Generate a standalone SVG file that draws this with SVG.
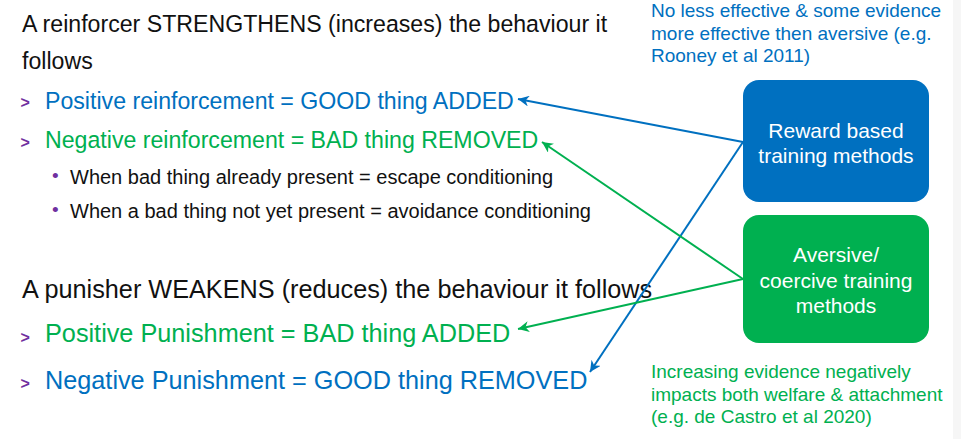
<svg xmlns="http://www.w3.org/2000/svg" width="961" height="439" viewBox="0 0 961 439">
<style>
text{font-family:"Liberation Sans",Arial,sans-serif}
.k{fill:#111}
.b{fill:#0070C0}
.g{fill:#00B050}
.p{fill:#7030A0;font-weight:bold;font-size:16px}
.d{fill:#7030A0;font-size:19px}
.h{font-size:23.15px}
.h2{font-size:25.25px}
.s{font-size:20px}
.n{font-size:19px}
.w{fill:#fff;font-size:21px;text-anchor:middle}
.cb{stroke:#0070C0;stroke-width:2;fill:none}
.cg{stroke:#00B050;stroke-width:2;fill:none}
</style>
<defs>
<marker id="ab" viewBox="0 0 10 10" refX="10" refY="5" markerWidth="5.5" markerHeight="5.5" orient="auto" markerUnits="strokeWidth"><path d="M0,0 L10,5 L0,10 L3,5 Z" fill="#0070C0"/></marker>
<marker id="ag" viewBox="0 0 10 10" refX="10" refY="5" markerWidth="5.5" markerHeight="5.5" orient="auto" markerUnits="strokeWidth"><path d="M0,0 L10,5 L0,10 L3,5 Z" fill="#00B050"/></marker>
</defs>
<rect x="0" y="0" width="961" height="439" fill="#fff"/>
<rect x="953" y="0" width="8" height="439" fill="#f6f6f6"/>
<g id="reinforcer">
<text class="k h" x="22" y="32">A reinforcer STRENGTHENS (increases) the behaviour it</text>
<text class="k h" x="22" y="69">follows</text>
<text class="p" x="20.5" y="108">&gt;</text>
<text class="b h" x="45" y="109">Positive reinforcement = GOOD thing ADDED</text>
<text class="p" x="20.5" y="148">&gt;</text>
<text class="g h" x="45" y="148">Negative reinforcement = BAD thing REMOVED</text>
<text class="d" x="52" y="182">•</text>
<text class="k s" x="70" y="184">When bad thing already present = escape conditioning</text>
<text class="d" x="52" y="216">•</text>
<text class="k s" x="70" y="218">When a bad thing not yet present = avoidance conditioning</text>
</g>
<g id="punisher">
<text class="k h2" x="22" y="298">A punisher WEAKENS (reduces) the behaviour it follows</text>
<text class="p" x="20.5" y="343">&gt;</text>
<text class="g h2" x="45" y="342">Positive Punishment = BAD thing ADDED</text>
<text class="p" x="20.5" y="389">&gt;</text>
<text class="b h2" x="45" y="389">Negative Punishment = GOOD thing REMOVED</text>
</g>
<g id="note-reward">
<text class="b n" x="651" y="17">No less effective &amp; some evidence</text>
<text class="b n" x="651" y="39.5">more effective then aversive (e.g.</text>
<text class="b n" x="651" y="62">Rooney et al 2011)</text>
</g>
<g id="reward">
<rect x="743" y="80" width="186" height="122" rx="16" fill="#0070C0"/>
<text class="w" x="836" y="138">Reward based</text>
<text class="w" x="836" y="163">training methods</text>
</g>
<g id="aversive">
<rect x="743" y="215" width="186" height="128" rx="16" fill="#00B050"/>
<text class="w" x="836" y="262">Aversive/</text>
<text class="w" x="836" y="287.5">coercive training</text>
<text class="w" x="836" y="313">methods</text>
</g>
<g id="note-aversive">
<text class="g n" x="651" y="378">Increasing evidence negatively</text>
<text class="g n" x="651" y="400.5">impacts both welfare &amp; attachment</text>
<text class="g n" x="651" y="423">(e.g. de Castro et al 2020)</text>
</g>
<g id="connectors">
<line class="cb" x1="743" y1="142" x2="518" y2="99" marker-end="url(#ab)"/>
<line class="cb" x1="743" y1="142" x2="590" y2="372" marker-end="url(#ab)"/>
<line class="cg" x1="743" y1="279" x2="542" y2="142" marker-end="url(#ag)"/>
<line class="cg" x1="743" y1="279" x2="518" y2="329" marker-end="url(#ag)"/>
</g>
</svg>
